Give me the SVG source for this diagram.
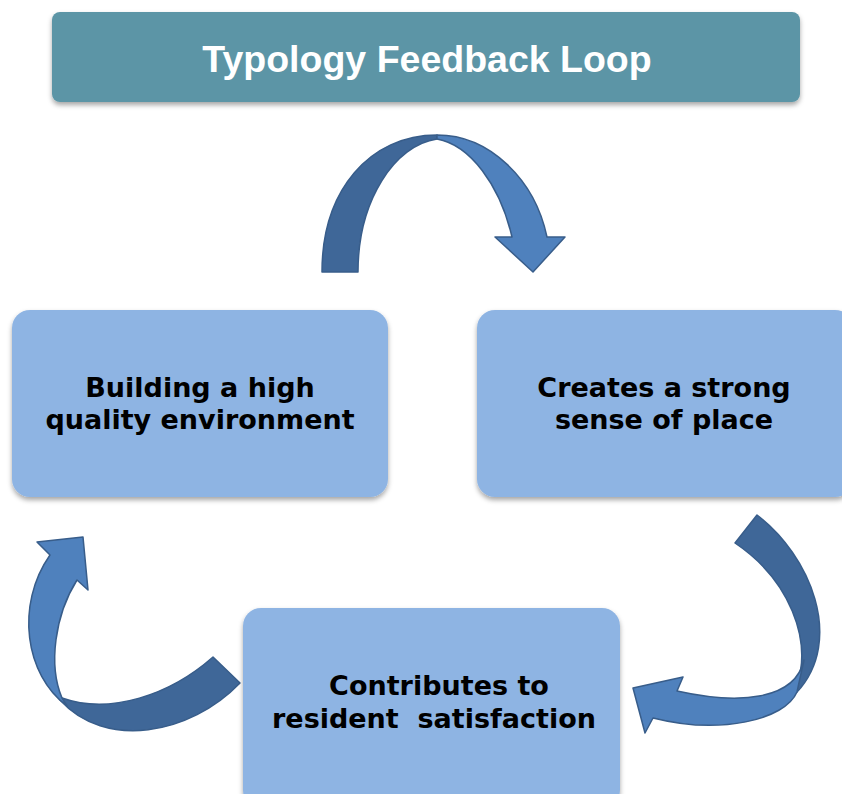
<svg xmlns="http://www.w3.org/2000/svg" width="842" height="794" viewBox="0 0 842 794">
  <defs>
    <filter id="shadow" x="-10%" y="-10%" width="120%" height="130%">
      <feDropShadow dx="0" dy="3" stdDeviation="2.5" flood-color="#000000" flood-opacity="0.35"/>
    </filter>
    <style>
      .node { fill: #8EB4E3; filter: url(#shadow); }
      .title-box { fill: #5B95A6; filter: url(#shadow); }
      .title { font-family: "Liberation Sans", Arial, sans-serif; font-weight: bold; font-size: 37.5px; fill: #FFFFFF; text-anchor: middle; }
      .label { font-family: "DejaVu Sans", "Liberation Sans", sans-serif; font-weight: bold; font-size: 27px; fill: #000000; text-anchor: middle; white-space: pre; }
      .arrow-dark { fill: #3F6798; stroke: #385D8A; stroke-width: 1.5; stroke-linejoin: round; }
      .arrow-light { fill: #4F81BD; stroke: #385D8A; stroke-width: 1.5; stroke-linejoin: round; }
    </style>
  </defs>
  <rect width="842" height="794" fill="#FFFFFF"/>

  <g id="title">
    <rect class="title-box" x="52" y="12" width="748" height="90" rx="8"/>
    <text class="title" x="427" y="72">Typology Feedback Loop</text>
  </g>

  <g id="connectors">
    <g id="arrow-top">
      <path class="arrow-dark" d="M322,272 C322,190 370,135 437,135 L437,139 C395,145 358,200 358,272 Z"/>
      <path class="arrow-light" d="M437,135 C490,135 535,180 547,237 L565,237 L533,272 L495,237 L512,237 C500,185 470,145 437,139 Z"/>
    </g>
    <g id="arrow-right">
      <path class="arrow-dark" d="M757,515 C810,555 845,640 797,692 L797,685 C812,640 790,580 735,543 Z"/>
      <path class="arrow-light" d="M804,660 C795,700 740,705 677,691 L683,677 L633,688 L645,733 L653,718 C720,735 785,720 797,692 Z"/>
    </g>
    <g id="arrow-left">
      <path class="arrow-dark" d="M213,657 L240,683 C190,735 105,750 60,700 L62,698 C110,715 170,695 213,657 Z"/>
      <path class="arrow-light" d="M67,706 C25,675 15,605 50,555 L37,542 L83,537 L88,590 L77,580 C55,615 48,665 62,698 Z"/>
    </g>
  </g>

  <g id="node-building">
    <rect class="node" x="12" y="310" width="376" height="187" rx="18"/>
    <text class="label" x="200" y="397">Building a high</text>
    <text class="label" x="200" y="429">quality environment</text>
  </g>

  <g id="node-creates">
    <rect class="node" x="477" y="310" width="376" height="187" rx="18"/>
    <text class="label" x="664" y="397">Creates a strong</text>
    <text class="label" x="664" y="429">sense of place</text>
  </g>

  <g id="node-contributes">
    <rect class="node" x="243" y="608" width="377" height="200" rx="18"/>
    <text class="label" x="439" y="695">Contributes to</text>
    <text class="label" x="434" y="728" xml:space="preserve">resident  satisfaction</text>
  </g>
</svg>
